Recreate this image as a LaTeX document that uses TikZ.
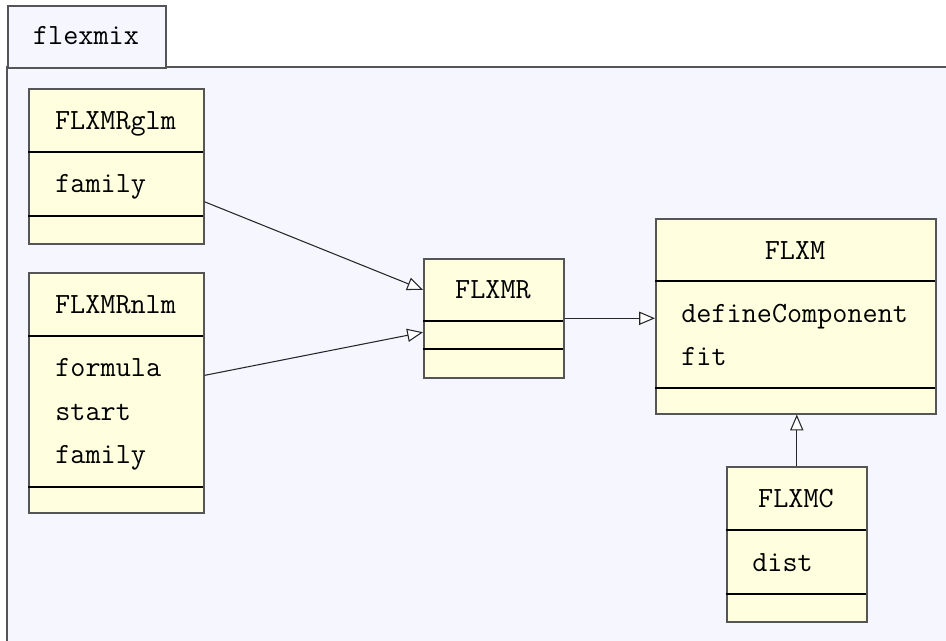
\documentclass[tikz,border=0pt]{standalone}
\usepackage{fontspec}
\usepackage{tikz}
\usetikzlibrary{arrows.meta}
\usetikzlibrary{positioning}
\definecolor{pkgfill}{RGB}{245,246,255}
\definecolor{classfill}{RGB}{255,255,224}
\definecolor{edge}{RGB}{85,85,85}

\begin{document}
\begin{tikzpicture}[x=0.02cm, y=-0.02cm,
  font=\ttfamily\fontsize{16.7}{20}\selectfont,
  classbox/.style={draw=edge, fill=classfill, line width=0.9pt, inner sep=0pt, anchor=north west},
  divider/.style={line width=0.6pt, black},
  cname/.style={anchor=base, inner sep=0pt},
  attr/.style={anchor=base west, inner sep=0pt},
  inherit/.style={line width=0.6pt, black!85,
    -{Triangle[length=9pt, width=7.5pt, fill=white, line width=0.6pt]}}]

\useasboundingbox (0,0) rectangle (946,641);

%---------------------------------------
% Package frame
%---------------------------------------
\fill[pkgfill, draw=edge, line width=0.9pt] (7,67) rectangle (980,680);
\node[draw=edge, fill=pkgfill, line width=0.9pt, anchor=north west,
      minimum width=3.16cm, minimum height=1.24cm, inner sep=0pt] (pkgtab) at (7,5) {};
\node[cname] (pkgname) at (86,45) {flexmix};

%---------------------------------------
% FLXMRglm
%---------------------------------------
\node[classbox, minimum width=3.5cm, minimum height=3.1cm] (glm) at (28,88) {};
\draw[divider] (28,152) -- (203,152);
\draw[divider] (28,216) -- (203,216);
\node[cname] (glm-name) at (115.5,130) {FLXMRglm};
\node[attr] (glm-family) at (55,193) {family};

%---------------------------------------
% FLXMRnlm
%---------------------------------------
\node[classbox, minimum width=3.5cm, minimum height=4.8cm] (nlm) at (28,272) {};
\draw[divider] (28,336) -- (203,336);
\draw[divider] (28,487) -- (203,487);
\node[cname] (nlm-name) at (115.5,314) {FLXMRnlm};
\foreach \a [count=\i from 0] in {formula,start,family}
  \node[attr] (nlm-\a) at (55,377+43*\i) {\a};

%---------------------------------------
% FLXMR
%---------------------------------------
\node[classbox, minimum width=2.8cm, minimum height=2.38cm] (flxmr) at (423,258) {};
\draw[divider] (423,321) -- (563,321);
\draw[divider] (423,349) -- (563,349);
\node[cname] (flxmr-name) at (493,299) {FLXMR};

%---------------------------------------
% FLXM
%---------------------------------------
\node[classbox, minimum width=5.6cm, minimum height=3.9cm] (flxm) at (655,218) {};
\draw[divider] (655,281) -- (935,281);
\draw[divider] (655,388) -- (935,388);
\node[cname] (flxm-name) at (795,260) {FLXM};
\foreach \a [count=\i from 0] in {defineComponent,fit}
  \node[attr] (flxm-\a) at (681,323+43*\i) {\a};

%---------------------------------------
% FLXMC
%---------------------------------------
\node[classbox, minimum width=2.8cm, minimum height=3.1cm] (flxmc) at (726,466) {};
\draw[divider] (726,530) -- (866,530);
\draw[divider] (726,594) -- (866,594);
\node[cname] (flxmc-name) at (796,507) {FLXMC};
\node[attr] (flxmc-dist) at (752,571) {dist};

%---------------------------------------
% Generalisations
%---------------------------------------
\draw[inherit] (glm) -- (flxmr);
\draw[inherit] (nlm) -- (flxmr);
\draw[inherit] (flxmr.east) -- (flxmr.east -| flxm.west);
\draw[inherit] (flxmc.north) -- (flxmc.north |- flxm.south);

\end{tikzpicture}
\end{document}
